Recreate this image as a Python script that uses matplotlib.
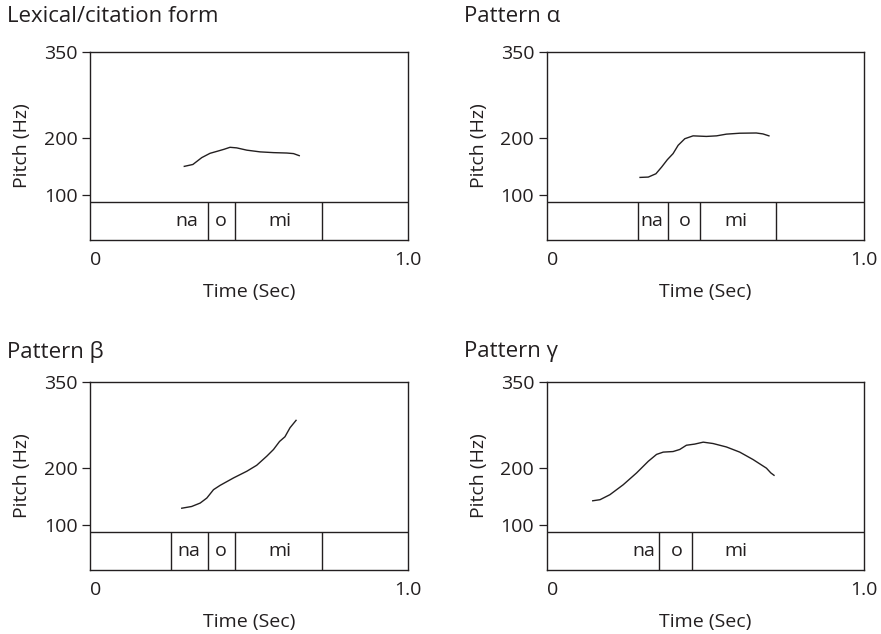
import numpy as np
import matplotlib
matplotlib.use("Agg")
import matplotlib.pyplot as plt
from matplotlib.transforms import ScaledTranslation

plt.rcParams['font.family'] = ['Open Sans', 'DejaVu Sans']

# pitch contours (time in s, pitch in Hz)
lex_t = [0.297, 0.324, 0.352, 0.378, 0.404, 0.422, 0.441, 0.462, 0.494, 0.536, 0.578, 0.620, 0.641, 0.659]
lex_hz = [149.7, 153, 165, 172.5, 176.6, 179.5, 183, 182, 178, 175, 173.7, 173, 172, 168.4]

alpha_t = [0.294, 0.320, 0.344, 0.362, 0.380, 0.398, 0.414, 0.435, 0.461, 0.503, 0.535, 0.566, 0.608, 0.660, 0.681, 0.700]
alpha_hz = [130.4, 131, 136.8, 148.5, 161.4, 172, 186.5, 198, 203, 202, 203, 206, 207.6, 208, 206.4, 203]

beta_t = [0.289, 0.320, 0.347, 0.368, 0.389, 0.410, 0.452, 0.494, 0.525, 0.557, 0.578, 0.597, 0.614, 0.630, 0.649]
beta_hz = [129, 132, 138, 146.8, 161.4, 169, 181.9, 193.6, 204, 220, 231.6, 245.6, 253.8, 269.6, 282.5]

gamma_t = [0.145, 0.168, 0.199, 0.241, 0.283, 0.320, 0.346, 0.367, 0.398, 0.419, 0.440, 0.466,
           0.493, 0.524, 0.566, 0.608, 0.650, 0.692, 0.706, 0.716]
gamma_hz = [142, 143.9, 152.6, 170, 190.6, 211, 223, 227, 228, 231.6, 239, 241,
            244.4, 242, 236, 227, 214, 199, 190.6, 186.5]

# segment tier: boundaries and syllable label positions
lex_bounds = [0.371, 0.458, 0.731]
alpha_bounds = [0.2875, 0.382, 0.483, 0.721]
beta_bounds = [0.254, 0.371, 0.458, 0.730]
gamma_bounds = [0.353, 0.459]

syllables = ['na', 'o', 'mi']
lex_lab_t = [0.305, 0.413, 0.597]
alpha_lab_t = [0.332, 0.435, 0.597]
beta_lab_t = [0.310, 0.413, 0.597]
gamma_lab_t = [0.306, 0.411, 0.597]

titles = ['Lexical/citation form', 'Pattern α', 'Pattern β', 'Pattern γ']
yticks = [100, 200, 350]

Y_TOP, Y_BOT, TIER = 350, 21.6, 87.1
INK = '#231f20'

panels = [
    (lex_t, lex_hz, lex_bounds, lex_lab_t),
    (alpha_t, alpha_hz, alpha_bounds, alpha_lab_t),
    (beta_t, beta_hz, beta_bounds, beta_lab_t),
    (gamma_t, gamma_hz, gamma_bounds, gamma_lab_t),
]

W, H = 881, 634
fig = plt.figure(figsize=(W / 100, H / 100), dpi=100)

# box positions in pixels (left, top) and title centre heights
boxes = [(90, 51.7), (546.7, 51.7), (90, 381.7), (546.7, 381.7)]
title_y = [17, 17, 352, 352]
bw, bh = 317.5, 188

fs = 14
for i, (t, hz, bounds, lab_t) in enumerate(panels):
    left, top = boxes[i]
    ax = fig.add_axes([left / W, 1 - (top + bh) / H, bw / W, bh / H])
    ax.plot(t, hz, color=INK, lw=1.0)
    ax.axhline(TIER, color=INK, lw=1.0)
    ax.vlines(bounds, Y_BOT, TIER, color=INK, lw=1.0)
    for s, x in zip(syllables, lab_t):
        ax.text(x, (Y_BOT + TIER) / 2, s, ha='center', va='center', fontsize=fs, color=INK)

    ax.set_xlim(0, 1)
    ax.set_ylim(Y_BOT, Y_TOP)
    ax.set_yticks(yticks)
    ax.set_yticklabels([str(v) for v in yticks])
    ax.set_xticks([0, 1])
    ax.set_xticklabels(['0', '1.0'])
    ax.tick_params(axis='y', direction='out', length=6, width=0.9, color=INK,
                   labelsize=fs, labelcolor=INK, pad=3)
    ax.tick_params(axis='x', length=0, labelsize=fs, labelcolor=INK, pad=8)
    lbl0 = ax.get_xticklabels()[0]
    lbl0.set_transform(lbl0.get_transform() + ScaledTranslation(6 / 100, 0, fig.dpi_scale_trans))
    for sp in ax.spines.values():
        sp.set_color(INK)
        sp.set_linewidth(1.0)

    ax.set_xlabel('Time (Sec)', fontsize=fs, color=INK, labelpad=10)
    ax.set_ylabel('Pitch (Hz)', fontsize=fs, color=INK, labelpad=9)
    fig.text((left - 83) / W, 1 - title_y[i] / H, titles[i], fontsize=fs + 2,
             color=INK, ha='left', va='center')

fig.savefig('out.png', dpi=100)
